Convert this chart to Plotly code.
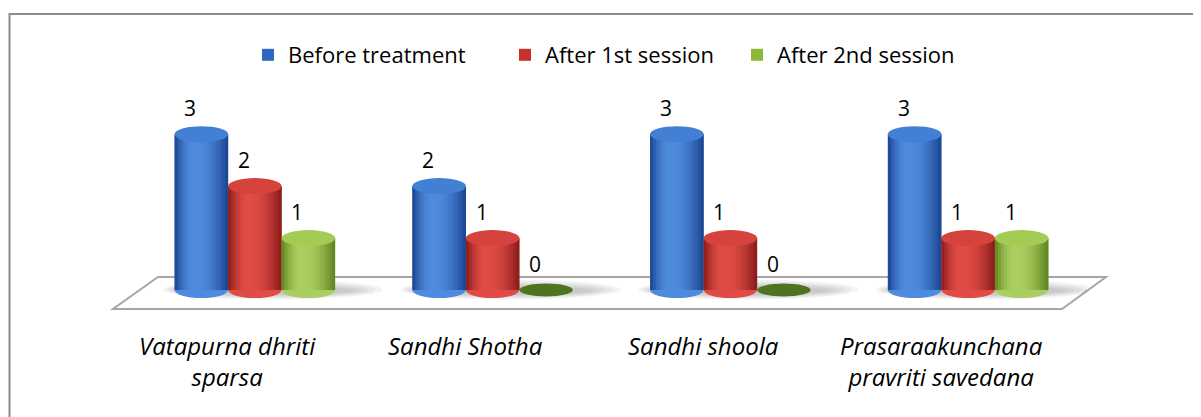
import plotly.graph_objects as go

categories = ["Vatapurna dhriti<br>sparsa", "Sandhi Shotha", "Sandhi shoola",
              "Prasaraakunchana<br>pravriti savedana"]
series_names = ["Before treatment", "After 1st session", "After 2nd session"]
before = [3, 2, 3, 3]
after1 = [2, 1, 1, 1]
after2 = [1, 0, 0, 1]
series_values = [before, after1, after2]

# style
OFF = 8  # page offset of the figure
W, H = 1201, 417
PW, PH = 951, 213
L = 136 - OFF
T = 103 - OFF
R = W - L - PW
B = H - T - PH
YR = [-0.5, 3.6]
BARGAP = 0.325
FONT = "Open Sans"
dark = [(24, 66, 142), (132, 26, 24), (92, 128, 30)]
light = [(80, 140, 222), (226, 76, 70), (172, 208, 96)]
topc = ["#4280D6", "#D6433D", "#A4CC55"]
mid = ["#2F67C0", "#C8302C", "#8DB83A"]
zero_col = "#4F7420"
legend_widths = [212, 187, None]


def pxx(px):
    return (px - OFF - L) / PW


def pxy(py):
    return (H - B - (py - OFF)) / PH


unit_px = PH / (YR[1] - YR[0])
ell_h = 8 / unit_px

fig = go.Figure()
for name, vals, c, lw in zip(series_names, series_values, mid, legend_widths):
    fig.add_trace(go.Bar(x=list(range(len(categories))), y=vals, name=name,
                         marker=dict(color=c, line=dict(width=0)),
                         legendwidth=lw, hoverinfo="skip"))

shapes = []
# outer border
shapes.append(dict(type="rect", xref="paper", yref="paper", x0=pxx(9.5), x1=pxx(1215),
                   y0=pxy(14), y1=pxy(440), line=dict(color="#8C8C8C", width=2),
                   fillcolor="rgba(0,0,0,0)", layer="below"))
# floor
shapes.append(dict(type="path", xref="paper", yref="paper",
                   path=f"M {pxx(113)},{pxy(309)} L {pxx(1062)},{pxy(309)} L {pxx(1106)},{pxy(277)} L {pxx(158)},{pxy(277)} Z",
                   line=dict(color="#A6A6A6", width=2), fillcolor="white", layer="below"))

bw = (1 - BARGAP) / 3
# soft shadows
for i in range(len(categories)):
    for k in range(5):
        shapes.append(dict(type="circle", xref="x", yref="y",
                           x0=i - 1.5 * bw - 0.05 + 0.015 * k, x1=i + 1.5 * bw + 0.2 - 0.03 * k,
                           y0=-0.18 + 0.02 * k, y1=0.2 - 0.03 * k,
                           line=dict(width=0), fillcolor="rgba(0,0,0,0.045)", layer="below"))


def mix(t, k):
    if t < 0.38:
        f = 1 - ((0.38 - t) / 0.38) ** 2
    else:
        f = 1 - ((t - 0.38) / 0.62) ** 2
    f = max(0, f)
    c = [int(d + (l - d) * f) for d, l in zip(dark[k], light[k])]
    return f"rgb({c[0]},{c[1]},{c[2]})"


N = 18
for k, vals in enumerate(series_values):
    for i, v in enumerate(vals):
        cx = i + (k - 1) * bw
        x0, x1 = cx - bw / 2, cx + bw / 2
        sw = (x1 - x0) / N
        if v == 0:
            shapes.append(dict(type="circle", xref="x", yref="y", x0=x0, x1=x1,
                               y0=-ell_h * 0.8, y1=ell_h * 0.8, fillcolor=zero_col,
                               line=dict(width=0)))
            continue
        shapes.append(dict(type="circle", xref="x", yref="y", x0=x0, x1=x1,
                           y0=-ell_h, y1=ell_h, fillcolor=mix(0.45, k), line=dict(width=0)))
        for s in range(N):
            sx0 = x0 + sw * s
            sx1 = min(x1, sx0 + sw * 1.8)
            shapes.append(dict(type="rect", xref="x", yref="y", x0=sx0, x1=sx1,
                               y0=0, y1=v, fillcolor=mix((s + 0.5) / N, k),
                               line=dict(width=0)))
        shapes.append(dict(type="circle", xref="x", yref="y", x0=x0, x1=x1,
                           y0=v - ell_h, y1=v + ell_h, fillcolor=topc[k],
                           line=dict(width=0)))

annotations = []
for k, vals in enumerate(series_values):
    for i, v in enumerate(vals):
        cx = i + (k - 1) * bw
        annotations.append(dict(x=cx, y=v, xref="x", yref="y", text=str(v),
                                showarrow=False, xshift=-11, yshift=26,
                                font=dict(family=FONT, size=21, color="black")))
for i, c in enumerate(categories):
    annotations.append(dict(x=i, y=pxy(327), xref="x", yref="paper",
                            text=f"<i>{c}</i>", showarrow=False, xshift=-27,
                            yanchor="top",
                            font=dict(family=FONT, size=24, color="black")))

fig.update_layout(
    width=W, height=H, autosize=False,
    margin=dict(l=L, r=R, t=T, b=B),
    paper_bgcolor="white", plot_bgcolor="white",
    barmode="group", bargap=BARGAP, bargroupgap=0,
    xaxis=dict(range=[-0.5, 3.5], showticklabels=False, showgrid=False, zeroline=False,
               showline=False, ticks=""),
    yaxis=dict(range=YR, showticklabels=False, showgrid=False, zeroline=False,
               showline=False, ticks=""),
    shapes=shapes, annotations=annotations,
    legend=dict(orientation="h", x=pxx(248), xanchor="left", y=pxy(34), yanchor="top",
                font=dict(family=FONT, size=22, color="black"), itemclick=False),
    showlegend=True,
)
fig.write_html("out.html")
